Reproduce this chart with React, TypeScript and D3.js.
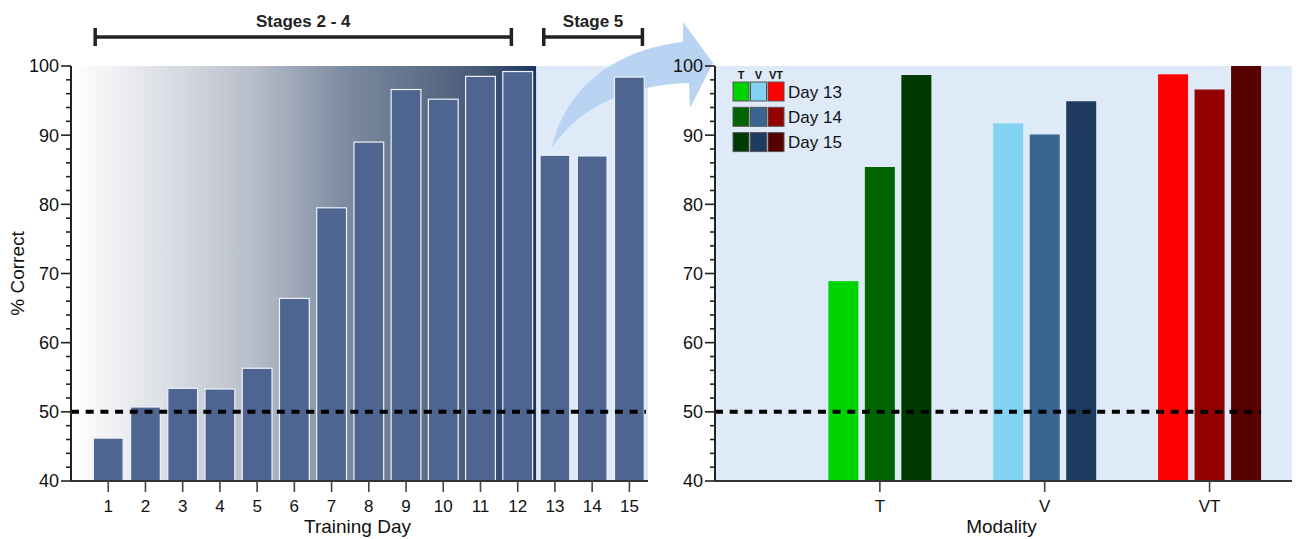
import React from 'react';
import { scaleLinear, scaleBand, range } from 'd3';

// training curve, days 1-15
const DAYS = [1, 2, 3, 4, 5, 6, 7, 8, 9, 10, 11, 12, 13, 14, 15];
const DAY_SCORES = [46.2, 50.7, 53.4, 53.3, 56.3, 66.4, 79.5, 89.0, 96.6, 95.2, 98.5, 99.2, 87.1, 87.0, 98.4];

const STAGE_LABELS = ['Stages 2 - 4', 'Stage 5'];
const STAGE_FIRST_DAY = [1, 13];
const STAGE_LAST_DAY = [12, 15];

// stage 5 split by modality
const MODALITIES = ['T', 'V', 'VT'];
const SESSIONS = ['Day 13', 'Day 14', 'Day 15'];
const T_SCORES = [68.9, 85.4, 98.7];
const V_SCORES = [91.7, 90.1, 94.9];
const VT_SCORES = [98.8, 96.6, 100];

const CHANCE = 50;
const Y_DOMAIN = [40, 100];

const T_COLORS = ['#00d400', '#006400', '#003a00'];
const V_COLORS = ['#82d3f2', '#3a6591', '#1f3a5f'];
const VT_COLORS = ['#ff0000', '#930000', '#560000'];

const FONT = '"Liberation Sans", Arial, sans-serif';
const BAR_FILL = '#4e6592';
const PLOT_BG = '#dfeaf8';
const ARROW_FILL = '#b9d3f2';

const TOP = 66;
const BOTTOM = 481;
const L_LEFT = 71;
const L_RIGHT = 648;
const R_LEFT = 715;
const R_RIGHT = 1292;
// bracket ends, in day units relative to first/last day
const BRACKET_PAD = [[-0.35, -0.17], [-0.3, 0.35]];

function YAxis({ x, y }: { x: number; y: any }) {
  const minor = range(Y_DOMAIN[0], Y_DOMAIN[1] + 0.1, 2);
  const major = y.ticks(6);
  return (
    <g>
      <line x1={x} x2={x} y1={TOP} y2={BOTTOM} stroke="#222" strokeWidth={2} />
      {minor.map((v: number) => (
        <line key={'m' + v} x1={x - (v % 10 === 0 ? 10 : 5)} x2={x} y1={y(v)} y2={y(v)} stroke="#222" strokeWidth={1.6} />
      ))}
      {major.map((v: number) => (
        <text key={v} x={x - 12} y={y(v)} dy="0.36em" textAnchor="end" fontSize={18} fill="#111">{v}</text>
      ))}
    </g>
  );
}

export default function App() {
  const y = scaleLinear().domain(Y_DOMAIN).range([BOTTOM, TOP]);
  const xL = scaleLinear().domain([0, DAYS.length + 0.5]).range([L_LEFT, L_RIGHT]);
  const xR = scaleLinear().domain([0, MODALITIES.length + 0.5]).range([R_LEFT, R_RIGHT]);
  const inner = scaleBand().domain(SESSIONS).range([-54.75, 54.75]).paddingInner(0.178).paddingOuter(0.089);
  const barW = (xL(1) - xL(0)) * 0.8;
  const stage5Start = xL(STAGE_FIRST_DAY[1] - 0.5);

  const groups = [T_SCORES, V_SCORES, VT_SCORES];
  const colors = [T_COLORS, V_COLORS, VT_COLORS];
  const lastBarRight = xR(MODALITIES.length) + (inner(SESSIONS[2]) as number) + inner.bandwidth();

  const legX = 733;
  const legY = 82;
  const arrow = 'M552,148 C563,95 608,50 683,42 L683,22 L713,63 L690,108 L689,83 C630,85 580,105 552,148 Z';

  return (
    <svg width={1305} height={539} style={{ position: 'absolute', left: 0, top: 0, fontFamily: FONT }}>
      <defs>
        <linearGradient id="trainGrad" x1="0" x2="1" y1="0" y2="0">
          <stop offset="0" stopColor="#ffffff" />
          <stop offset="0.2" stopColor="#dcdfe5" />
          <stop offset="0.4" stopColor="#b5bcc8" />
          <stop offset="0.58" stopColor="#7f8da2" />
          <stop offset="0.75" stopColor="#5f7089" />
          <stop offset="0.88" stopColor="#465977" />
          <stop offset="1" stopColor="#1c3560" />
        </linearGradient>
      </defs>

      {/* backgrounds */}
      <rect x={L_LEFT} y={TOP} width={stage5Start - L_LEFT} height={BOTTOM - TOP} fill="url(#trainGrad)" />
      <rect x={stage5Start} y={TOP} width={L_RIGHT - stage5Start} height={BOTTOM - TOP} fill={PLOT_BG} />
      <rect x={R_LEFT} y={TOP} width={R_RIGHT - R_LEFT} height={BOTTOM - TOP} fill={PLOT_BG} />

      <path d={arrow} fill={ARROW_FILL} />

      {/* left bars */}
      {DAYS.map((d, i) => (
        <rect key={d} x={xL(d) - barW / 2} y={y(DAY_SCORES[i])} width={barW} height={BOTTOM - y(DAY_SCORES[i])}
          fill={BAR_FILL} stroke="#eef2f8" strokeWidth={1.2} />
      ))}

      {/* right bars */}
      {MODALITIES.map((m, gi) => (
        <g key={m} transform={`translate(${xR(gi + 1)},0)`}>
          {SESSIONS.map((s, si) => (
            <rect key={s} x={inner(s)} y={y(groups[gi][si])} width={inner.bandwidth()}
              height={BOTTOM - y(groups[gi][si])} fill={colors[gi][si]} />
          ))}
        </g>
      ))}

      {/* chance lines */}
      <line x1={L_LEFT} x2={L_RIGHT - 2} y1={y(CHANCE)} y2={y(CHANCE)} stroke="#000" strokeWidth={4} strokeDasharray="8,6.7" />
      <line x1={R_LEFT} x2={lastBarRight} y1={y(CHANCE)} y2={y(CHANCE)} stroke="#000" strokeWidth={4} strokeDasharray="8,6.7" />

      {/* axes left */}
      <line x1={L_LEFT} x2={L_RIGHT} y1={BOTTOM} y2={BOTTOM} stroke="#333" strokeWidth={2} />
      {DAYS.map((d) => (
        <g key={d}>
          <line x1={xL(d)} x2={xL(d)} y1={BOTTOM} y2={BOTTOM + 11} stroke="#444" strokeWidth={1.6} />
          <text x={xL(d)} y={BOTTOM + 31} textAnchor="middle" fontSize={17} fill="#111">{d}</text>
        </g>
      ))}
      <YAxis x={L_LEFT} y={y} />
      <text x={(L_LEFT + L_RIGHT) / 2 - 2} y={533} textAnchor="middle" fontSize={19} fill="#111">Training Day</text>
      <text transform={`translate(24,${(TOP + BOTTOM) / 2}) rotate(-90)`} textAnchor="middle" fontSize={19} fill="#111">% Correct</text>

      {/* axes right */}
      <line x1={R_LEFT} x2={R_RIGHT} y1={BOTTOM} y2={BOTTOM} stroke="#333" strokeWidth={2} />
      {MODALITIES.map((m, i) => (
        <g key={m}>
          <line x1={xR(i + 1)} x2={xR(i + 1)} y1={BOTTOM} y2={BOTTOM + 11} stroke="#444" strokeWidth={1.6} />
          <text x={xR(i + 1)} y={BOTTOM + 31} textAnchor="middle" fontSize={17} fill="#111">{m}</text>
        </g>
      ))}
      <YAxis x={R_LEFT} y={y} />
      <text x={(R_LEFT + R_RIGHT) / 2 - 2} y={533} textAnchor="middle" fontSize={19} fill="#111">Modality</text>

      {/* stage brackets */}
      {STAGE_LABELS.map((label, i) => {
        const x1 = xL(STAGE_FIRST_DAY[i] + BRACKET_PAD[i][0]);
        const x2 = xL(STAGE_LAST_DAY[i] + BRACKET_PAD[i][1]);
        return (
          <g key={label} stroke="#222" strokeWidth={3.5}>
            <line x1={x1} x2={x2} y1={37} y2={37} />
            <line x1={x1} x2={x1} y1={28} y2={46} />
            <line x1={x2} x2={x2} y1={28} y2={46} />
            <text x={(x1 + x2) / 2} y={27} stroke="none" textAnchor="middle" fontSize={17} fontWeight="bold" fill="#222">{label}</text>
          </g>
        );
      })}

      {/* legend */}
      {MODALITIES.map((m, ci) => (
        <text key={m} x={legX + 8 + ci * 17.5} y={legY - 3} textAnchor="middle" fontSize={11} fontWeight="bold" fill="#111">{m}</text>
      ))}
      {SESSIONS.map((s, ri) => (
        <g key={s}>
          {colors.map((c, ci) => (
            <rect key={ci} x={legX + ci * 17.5} y={legY + ri * 25.3} width={16} height={19} fill={c[ri]} stroke="#555" strokeWidth={1} />
          ))}
          <text x={788} y={legY + ri * 25.3 + 9.5} dy="0.36em" fontSize={17} fill="#111">{s}</text>
        </g>
      ))}
    </svg>
  );
}
